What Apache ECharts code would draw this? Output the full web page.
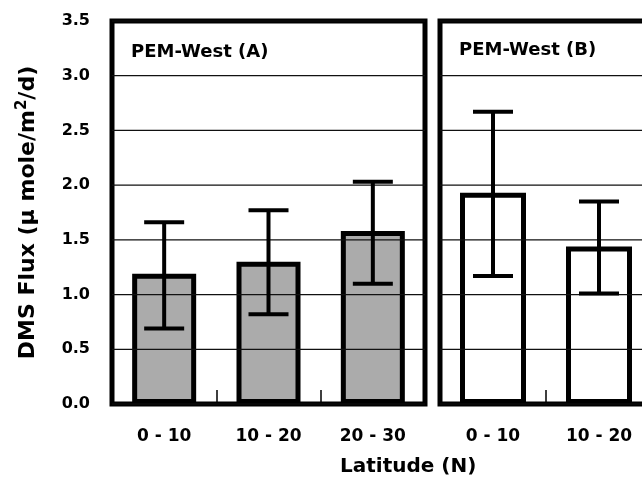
<!DOCTYPE html>
<html>
<head>
<meta charset="utf-8">
<script src="https://cdn.jsdelivr.net/npm/echarts@6/dist/echarts.min.js"></script>
<style>
  html, body { margin: 0; padding: 0; background: #fff; }
  #chart { width: 642px; height: 481px; }
</style>
</head>
<body>
<div id="chart"></div>
<script>
const FONT = "DejaVu Sans";
const GREY = "#ababab";

const catsA = ["0 - 10", "10 - 20", "20 - 30"];
const meanA = [1.19, 1.30, 1.58];
const lowA = [0.69, 0.82, 1.10];
const highA = [1.66, 1.77, 2.03];

const catsB = ["0 - 10", "10 - 20"];
const meanB = [1.93, 1.44];
const lowB = [1.17, 1.01];
const highB = [2.67, 1.85];

const yTicks = [0, 0.5, 1.0, 1.5, 2.0, 2.5, 3.0, 3.5];

function errorBars(api) {
  const x = api.value(0);
  const lo = api.coord([x, api.value(1)]);
  const hi = api.coord([x, api.value(2)]);
  const half = 20;
  const style = { stroke: "#000", lineWidth: 4 };
  return {
    type: "group",
    children: [
      { type: "line", shape: { x1: lo[0], y1: lo[1], x2: hi[0], y2: hi[1] }, style },
      { type: "line", shape: { x1: hi[0] - half, y1: hi[1], x2: hi[0] + half, y2: hi[1] }, style },
      { type: "line", shape: { x1: lo[0] - half, y1: lo[1], x2: lo[0] + half, y2: lo[1] }, style },
    ],
  };
}

// horizontal gridlines drawn over the bars, one per y tick
function gridLines(params, api) {
  const y = api.coord([0, api.value(1)])[1];
  const cs = params.coordSys;
  return {
    type: "line",
    shape: { x1: cs.x, y1: y, x2: cs.x + cs.width, y2: y },
    style: { stroke: "#111", lineWidth: 1.2 },
  };
}

function xAxisFor(cats, idx) {
  return {
    type: "category",
    gridIndex: idx,
    data: cats,
    axisLine: { show: false },
    axisTick: { show: true, inside: true, length: 14, lineStyle: { color: "#000", width: 1.5 } },
    axisLabel: { color: "#000", fontFamily: FONT, fontWeight: "bold", fontSize: 17, margin: 24 },
  };
}

function yAxisFor(idx, showLabels) {
  return {
    type: "value",
    gridIndex: idx,
    min: 0,
    max: 3.5,
    interval: 0.5,
    axisLine: { show: false },
    axisTick: { show: false },
    axisLabel: {
      show: showLabels,
      color: "#000", fontFamily: FONT, fontWeight: "bold", fontSize: 16, margin: 22,
      formatter: (v) => yTicks.includes(v) ? v.toFixed(1) : "",
    },
    splitLine: { show: false },
  };
}

const chart = echarts.init(document.getElementById("chart"), null, { renderer: "canvas" });
chart.setOption({
  animation: false,
  backgroundColor: "#fff",
  grid: [
    { left: 112, top: 21, width: 313, height: 383, show: true, borderColor: "#000", borderWidth: 5, backgroundColor: "transparent", outerBoundsMode: "none" },
    { left: 440, top: 21, width: 212, height: 383, show: true, borderColor: "#000", borderWidth: 5, backgroundColor: "transparent", outerBoundsMode: "none" },
  ],
  xAxis: [xAxisFor(catsA, 0), xAxisFor(catsB, 1)],
  yAxis: [
    Object.assign(yAxisFor(0, true), {
      name: "DMS Flux (µ mole/m{sup|2}/d)",
      nameLocation: "middle",
      nameRotate: 90,
      nameGap: 70,
      nameTextStyle: {
        color: "#000", fontFamily: FONT, fontWeight: "bold", fontSize: 22,
        rich: { sup: { color: "#000", fontFamily: FONT, fontWeight: "bold", fontSize: 15, padding: [0, 0, 12, 0] } },
      },
    }),
    yAxisFor(1, false),
  ],
  title: [
    { text: "PEM-West (A)", left: 126, top: 38, textStyle: { color: "#000", fontFamily: FONT, fontWeight: "bold", fontSize: 18 } },
    { text: "PEM-West (B)", left: 454, top: 36, textStyle: { color: "#000", fontFamily: FONT, fontWeight: "bold", fontSize: 18 } },
  ],
  graphic: [
    { type: "text", left: 340, top: 457, style: { text: "Latitude (N)", fill: "#000", font: "bold 20px 'DejaVu Sans'" } },
  ],
  series: [
    {
      type: "bar", xAxisIndex: 0, yAxisIndex: 0, data: meanA, barWidth: 64, z: 2,
      itemStyle: { color: GREY, borderColor: "#000", borderWidth: 5 },
    },
    {
      type: "bar", xAxisIndex: 1, yAxisIndex: 1, data: meanB, barWidth: 66, z: 2,
      itemStyle: { color: "rgba(255,255,255,0)", borderColor: "#000", borderWidth: 5 },
    },
    {
      type: "custom", xAxisIndex: 0, yAxisIndex: 0, z: 5,
      data: yTicks.map((v) => [0, v]),
      renderItem: gridLines,
    },
    {
      type: "custom", xAxisIndex: 1, yAxisIndex: 1, z: 5,
      data: yTicks.map((v) => [0, v]),
      renderItem: gridLines,
    },
    {
      type: "custom", xAxisIndex: 0, yAxisIndex: 0, z: 10,
      data: catsA.map((c, i) => [i, lowA[i], highA[i]]),
      renderItem: (params, api) => errorBars(api),
    },
    {
      type: "custom", xAxisIndex: 1, yAxisIndex: 1, z: 10,
      data: catsB.map((c, i) => [i, lowB[i], highB[i]]),
      renderItem: (params, api) => errorBars(api),
    },
  ],
});
</script>
</body>
</html>
